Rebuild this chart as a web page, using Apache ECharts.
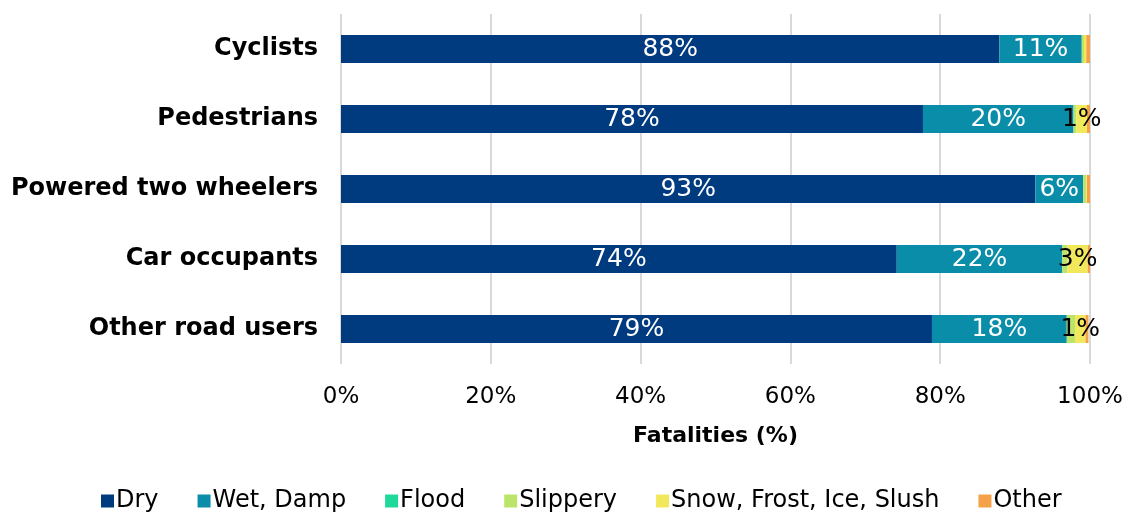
<!DOCTYPE html>
<html>
<head>
<meta charset="utf-8">
<script src="https://cdn.jsdelivr.net/npm/echarts@6/dist/echarts.min.js"></script>
<style>
  html, body { margin: 0; padding: 0; background: #ffffff; }
  #chart { width: 1132px; height: 513px; }
</style>
</head>
<body>
<div id="chart"></div>
<script>
// Road user groups (top to bottom)
const categories = ['Cyclists', 'Pedestrians', 'Powered two wheelers', 'Car occupants', 'Other road users'];

// Share of fatalities (%) by road surface condition
const dry      = [87.9, 77.7, 92.7, 74.2, 78.9];
const wetDamp  = [11.0, 20.1, 6.4, 22.1, 18.0];
const flood    = [0.0, 0.0, 0.0, 0.0, 0.0];
const slippery = [0.3, 0.4, 0.4, 0.7, 1.1];
const snow     = [0.3, 1.4, 0.1, 2.7, 1.4];
const other    = [0.5, 0.4, 0.4, 0.3, 0.4];

const xTicks = [0, 20, 40, 60, 80, 100];

const FONT = 'DejaVu Sans, Verdana, sans-serif';

function makeSeries(name, data, color, labelColor, showLabels) {
  return {
    name: name,
    type: 'bar',
    stack: 'total',
    barWidth: '40%',
    data: data,
    itemStyle: { color: color },
    label: {
      show: showLabels,
      position: 'inside',
      color: labelColor,
      fontFamily: FONT,
      fontSize: 25,
      formatter: function (p) {
        return p.value >= 1.2 ? Math.round(p.value) + '%' : '';
      }
    },
    emphasis: { disabled: true }
  };
}

const chart = echarts.init(document.getElementById('chart'), null, { renderer: 'canvas' });

chart.setOption({
  animation: false,
  backgroundColor: '#ffffff',
  textStyle: { fontFamily: FONT },
  grid: { left: 341, right: 42, top: 14, bottom: 149, containLabel: false },
  legend: {
    bottom: -5,
    left: 96,
    itemWidth: 13,
    itemHeight: 13,
    itemGap: 39,
    icon: 'rect',
    textStyle: { fontFamily: FONT, fontSize: 24, color: '#000000', padding: [0, 0, 0, -3] },
    data: ['Dry', 'Wet, Damp', 'Flood', 'Slippery', 'Snow, Frost, Ice, Slush', 'Other']
  },
  xAxis: {
    type: 'value',
    min: xTicks[0],
    max: xTicks[xTicks.length - 1],
    interval: 20,
    name: 'Fatalities (%)',
    nameLocation: 'middle',
    nameGap: 61,
    nameTextStyle: { fontFamily: FONT, fontSize: 22, fontWeight: 'bold', color: '#000000' },
    axisLine: { show: false },
    axisTick: { show: false },
    axisLabel: {
      fontFamily: FONT,
      fontSize: 23,
      color: '#000000',
      margin: 22,
      formatter: function (v) { return v + '%'; }
    },
    splitLine: { show: true, lineStyle: { color: '#d9d9d9', width: 2 } }
  },
  yAxis: {
    type: 'category',
    data: categories,
    inverse: true,
    axisLine: { show: false },
    axisTick: { show: false },
    axisLabel: {
      fontFamily: FONT,
      fontSize: 24,
      fontWeight: 'bold',
      color: '#000000',
      margin: 23
    }
  },
  series: [
    makeSeries('Dry', dry, '#003b80', '#ffffff', true),
    makeSeries('Wet, Damp', wetDamp, '#0a8da8', '#ffffff', true),
    makeSeries('Flood', flood, '#1fd99a', '#000000', false),
    makeSeries('Slippery', slippery, '#bde46a', '#000000', false),
    makeSeries('Snow, Frost, Ice, Slush', snow, '#f2e85c', '#000000', true),
    makeSeries('Other', other, '#f4a14a', '#000000', false)
  ]
});
</script>
</body>
</html>
